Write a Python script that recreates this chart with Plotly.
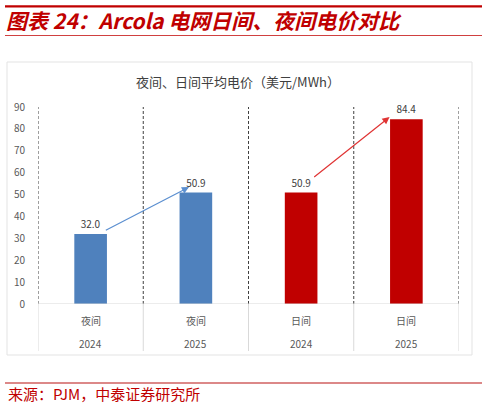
import plotly.graph_objects as go

# data
periods = ["夜间", "夜间", "日间", "日间"]
years = ["2024", "2025", "2024", "2025"]
prices = [32.0, 50.9, 50.9, 84.4]
colors = ["#4F81BD", "#4F81BD", "#C00000", "#C00000"]

W, H = 488, 406
L, R, T, B = 38, 459, 107, 304   # plot area in pixels


def px(x):
    return (x - L) / (R - L)


def py(y):
    return (B - y) / (B - T)


fig = go.Figure()
xs = list(range(len(prices)))
fig.add_trace(go.Bar(x=xs, y=prices, marker=dict(color=colors, line=dict(width=0)),
                     width=0.31, text=[f"{v:.1f}" for v in prices], textposition="outside",
                     textfont=dict(size=10, color="#404040"), cliponaxis=False,
                     showlegend=False))

shapes = []
# dashed vertical separators inside the plot
for i in range(len(prices) + 1):
    shapes.append(dict(type="line", xref="x", yref="y", x0=i - 0.5, x1=i - 0.5, y0=0, y1=90,
                       line=dict(color="#404040", width=1, dash="3px,2px")))
    # solid category dividers below the axis
    shapes.append(dict(type="line", xref="x", yref="paper", x0=i - 0.5, x1=i - 0.5,
                       y0=py(304), y1=py(351), line=dict(color="#D9D9D9", width=1)))
# baseline
shapes.append(dict(type="line", xref="x", yref="y", x0=-0.5, x1=len(prices) - 0.5, y0=0, y1=0,
                   line=dict(color="#D9D9D9", width=1)))
# chart frame
shapes.append(dict(type="rect", xref="paper", yref="paper", x0=px(7), x1=px(472), y0=py(62), y1=py(355),
                   line=dict(color="#E3E3E3", width=1)))
# title rules
shapes.append(dict(type="line", xref="paper", yref="paper", x0=px(5), x1=px(482), y0=py(6.4), y1=py(6.4),
                   line=dict(color="#C00000", width=2.2)))
shapes.append(dict(type="line", xref="paper", yref="paper", x0=px(5), x1=px(482), y0=py(35.5), y1=py(35.5),
                   line=dict(color="#D04040", width=1)))
shapes.append(dict(type="line", xref="paper", yref="paper", x0=px(5), x1=px(482), y0=py(383), y1=py(383),
                   line=dict(color="#D06060", width=1.5)))

annotations = []
for i in xs:
    annotations.append(dict(x=i, y=py(320), xref="x", yref="paper", yanchor="middle", text=periods[i],
                            showarrow=False, font=dict(size=10, color="#595959")))
    annotations.append(dict(x=i, y=py(343), xref="x", yref="paper", yanchor="middle", text=years[i],
                            showarrow=False, font=dict(size=10, color="#595959")))

# trend arrows: (from bar, to bar, colour, start offset, end offset)
arrows = [(0, 1, "#5B8FD0", (0.13, 1.3), (-0.065, 2.5)),
          (2, 3, "#E03434", (0.11, 6.6), (-0.16, 1.0))]
for a, b, c, so, eo in arrows:
    annotations.append(dict(x=b + eo[0], y=prices[b] + eo[1], xref="x", yref="y",
                            ax=a + so[0], ay=prices[a] + so[1], axref="x", ayref="y",
                            showarrow=True, arrowhead=2, arrowsize=1.2, arrowwidth=1.2,
                            arrowcolor=c, text=""))

annotations.append(dict(x=px(238), y=py(82), xref="paper", yref="paper", yanchor="middle",
                        text="夜间、日间平均电价（美元/MWh）", showarrow=False,
                        font=dict(size=13, color="#404040", family="Noto Sans CJK SC")))
annotations.append(dict(x=px(6), y=py(393), xref="paper", yref="paper", xanchor="left", yanchor="middle",
                        text="来源：PJM，中泰证券研究所", showarrow=False,
                        font=dict(size=15, color="#C00000", family="Noto Sans CJK SC")))

fig.update_layout(
    width=W, height=H,
    margin=dict(l=L, r=W - R, t=T, b=H - B),
    paper_bgcolor="white", plot_bgcolor="white",
    font=dict(family="Noto Sans CJK SC", color="#595959"),
    title=dict(text="<b><i>图表 24：Arcola 电网日间、夜间电价对比</i></b>",
               x=6 / W, y=1 - 21.5 / H, xref="container", yref="container",
               xanchor="left", yanchor="middle",
               font=dict(size=21, color="#C00000", family="Noto Sans CJK SC")),
    xaxis=dict(range=[-0.5, len(prices) - 0.5], showticklabels=False, showgrid=False,
               zeroline=False, showline=False),
    yaxis=dict(range=[0, 90], dtick=10, showgrid=False, zeroline=False, showline=False,
               tickfont=dict(size=10, color="#595959"), ticks="", ticklabelstandoff=12),
    shapes=shapes, annotations=annotations, bargap=0.69,
)

fig.write_html("out.html", config={"displayModeBar": False},
               post_script="document.body.style.margin='0';")
